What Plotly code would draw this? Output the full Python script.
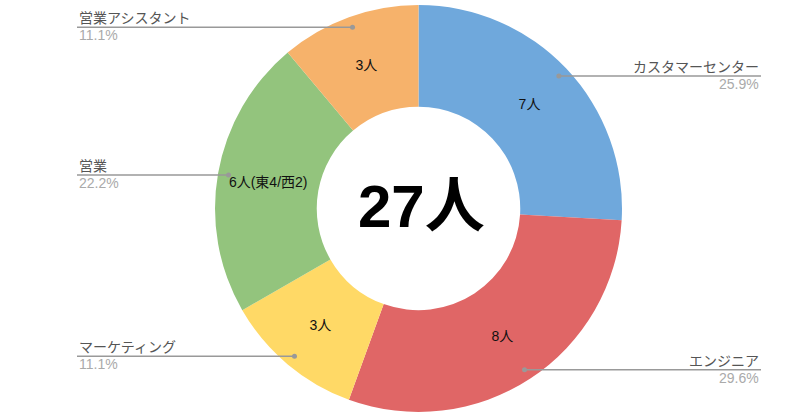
import math
import plotly.graph_objects as go

# data
categories = ["カスタマーセンター", "エンジニア", "マーケティング", "営業", "営業アシスタント"]
counts = [7, 8, 3, 6, 3]
slice_texts = ["7人", "8人", "3人", "6人(東4/西2)", "3人"]
colors = ["#6fa8dc", "#e06666", "#ffd966", "#93c47d", "#f6b26b"]
center_text = "27人"

W, H = 800, 417
cx, cy = 418.5, 208.5      # pie centre in pixels
radius = 203.5
dot_r = 0.948 * radius      # where the leader lines start
label_left, label_right = 77, 761

fig = go.Figure(go.Pie(
    labels=categories,
    values=counts,
    text=slice_texts,
    textinfo="text",
    textposition="inside",
    insidetextorientation="horizontal",
    textfont=dict(size=14, color="#111", family="Liberation Sans, Noto Sans CJK JP"),
    marker=dict(colors=colors, line=dict(width=0)),
    hole=0.5,
    sort=False,
    direction="clockwise",
    rotation=0,
    showlegend=False,
    domain=dict(x=[(cx - 220) / W, (cx + 220) / W],
                y=[(H - cy - radius) / H, (H - cy + radius) / H]),
))

shapes = []
annotations = []
total = sum(counts)
acc = 0
for name, v in zip(categories, counts):
    mid = (acc + v / 2) / total * 2 * math.pi
    acc += v
    px = cx + dot_r * math.sin(mid)
    py = cy - dot_r * math.cos(mid)
    right = px > cx
    edge = label_right if right else label_left
    yp = 1 - py / H
    shapes.append(dict(type="line", xref="paper", yref="paper",
                       x0=px / W, x1=edge / W, y0=yp, y1=yp,
                       line=dict(color="#999999", width=1.5)))
    shapes.append(dict(type="circle", xref="paper", yref="paper",
                       x0=(px - 2.5) / W, x1=(px + 2.5) / W,
                       y0=yp - 2.5 / H, y1=yp + 2.5 / H,
                       fillcolor="#999999", line=dict(width=0)))
    anchor = "right" if right else "left"
    annotations.append(dict(text=name, x=edge / W, y=yp, xref="paper", yref="paper",
                            xanchor=anchor, yanchor="bottom", showarrow=False,
                            font=dict(size=14, color="#555555"), yshift=-1))
    annotations.append(dict(text=f"{v / total * 100:.1f}%", x=edge / W, y=yp,
                            xref="paper", yref="paper",
                            xanchor=anchor, yanchor="top", showarrow=False,
                            font=dict(size=14, color="#aaaaaa"), yshift=2))

annotations.append(dict(text=f"<b>{center_text}</b>", x=(cx + 3) / W, y=1 - 206 / H,
                        xref="paper", yref="paper", showarrow=False,
                        font=dict(size=60, color="#000000",
                                  family="Liberation Sans, Noto Sans CJK JP")))

fig.update_layout(
    width=W, height=H,
    margin=dict(l=0, r=0, t=0, b=0),
    paper_bgcolor="white",
    font=dict(family="Liberation Sans, Noto Sans CJK JP"),
    shapes=shapes,
    annotations=annotations,
)

# drop the default page margin so the figure sits at the window corner
fig.write_html("out.html", config={"displayModeBar": False},
               post_script="document.body.style.margin='0';")
